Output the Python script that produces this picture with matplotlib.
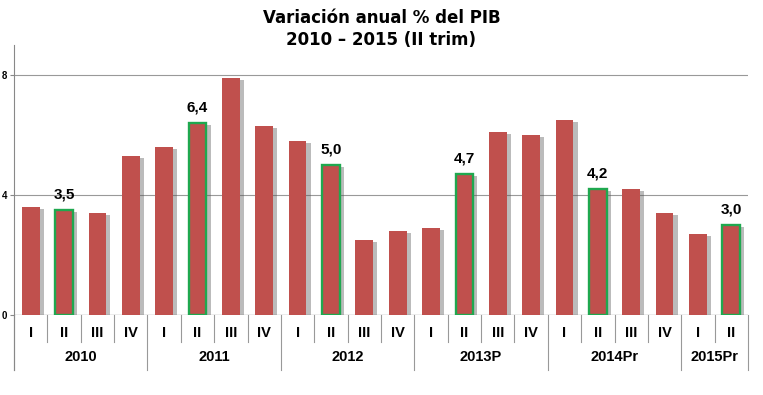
#!/usr/bin/env python3

import numpy as np

import matplotlib as mpl
mpl.use('Agg')
import matplotlib.pyplot as plt
import matplotlib.patheffects as pe
import matplotlib.transforms as mtransforms

years = ['2010', '2011', '2012', '2013P', '2014Pr', '2015Pr']
quarters_per_year = [4, 4, 4, 4, 4, 2]
quarters = ['I', 'II', 'III', 'IV'] * 5 + ['I', 'II']
values = [3.6, 3.5, 3.4, 5.3,
          5.6, 6.4, 7.9, 6.3,
          5.8, 5.0, 2.5, 2.8,
          2.9, 4.7, 6.1, 6.0,
          6.5, 4.2, 4.2, 3.4,
          2.7, 3.0]
yticks = [0, 4, 8]

RED = '#C0504D'
GREEN = '#1FA84F'


def main():
    fig = plt.figure(figsize=(7.63, 3.95), dpi=100)
    ax = fig.add_axes([14/763, 1-315/395, 734/763, 270/395])
    n = len(values)
    x = np.arange(n)

    shadow = [pe.SimplePatchShadow(offset=(3, -1.5), shadow_rgbFace='#555555', alpha=0.4), pe.Normal()]
    for i in range(n):
        hl = quarters[i] == 'II'
        b = ax.bar(x[i], values[i], width=0.53, color=RED,
                   edgecolor=GREEN if hl else 'none', linewidth=1.7 if hl else 0, zorder=3)
        b[0].set_path_effects(shadow)
        if hl:
            ax.text(x[i], values[i] + 0.27, '{:.1f}'.format(values[i]).replace('.', ','),
                    ha='center', va='bottom', fontsize=11, fontweight='bold',
                    family='Liberation Sans', zorder=4)

    ax.set_xlim(-0.5, n - 0.5)
    ax.set_ylim(0, 9)
    ax.set_yticks(yticks)
    ax.set_yticklabels([str(t) for t in yticks], fontsize=7, fontweight='bold', family='Liberation Sans')
    ax.tick_params(axis='y', length=3, pad=2, color='#888888')
    ax.set_xticks([])
    ax.grid(axis='y', color='#999999', lw=0.8, zorder=0)
    for s in ['top', 'right', 'bottom']:
        ax.spines[s].set_visible(False)
    ax.spines['left'].set_color('#888888')
    ax.spines['left'].set_bounds(0, 9)
    ax.axhline(0, color='#999999', lw=0.9, zorder=2)

    # two-level category axis
    tr = mtransforms.blended_transform_factory(ax.transData, ax.transAxes)
    for i in range(n):
        ax.text(x[i], -0.068, quarters[i], transform=tr, ha='center', va='center',
                fontsize=10.5, fontweight='bold', family='Liberation Sans')
    bounds = np.concatenate([[0], np.cumsum(quarters_per_year)])
    for i in range(1, n):
        if i not in bounds:
            ax.plot([i - 0.5, i - 0.5], [0, -0.1], transform=tr, color='#999999', lw=0.8, clip_on=False)
    for k in range(len(years)):
        ax.plot([bounds[k] - 0.5] * 2, [0, -0.205], transform=tr, color='#999999', lw=0.8, clip_on=False)
        mid = (bounds[k] + bounds[k + 1] - 1) / 2.0
        ax.text(mid, -0.157, years[k], transform=tr, ha='center', va='center',
                fontsize=10.5, fontweight='bold', family='Liberation Sans')
    ax.plot([n - 0.5] * 2, [0, -0.205], transform=tr, color='#999999', lw=0.8, clip_on=False)
    ax.plot([-0.5, -0.5], [0, -0.205], transform=tr, color='#888888', lw=0.8, clip_on=False)

    fig.text(0.5, 1 - 29/395, 'Variación anual % del PIB\n2010 – 2015 (II trim)',
             ha='center', va='center', fontsize=12, fontweight='bold',
             family='DejaVu Sans', linespacing=1.35)

    plt.savefig('out.png', dpi=100)
    print('Created out.png')


if __name__ == '__main__':
    main()
